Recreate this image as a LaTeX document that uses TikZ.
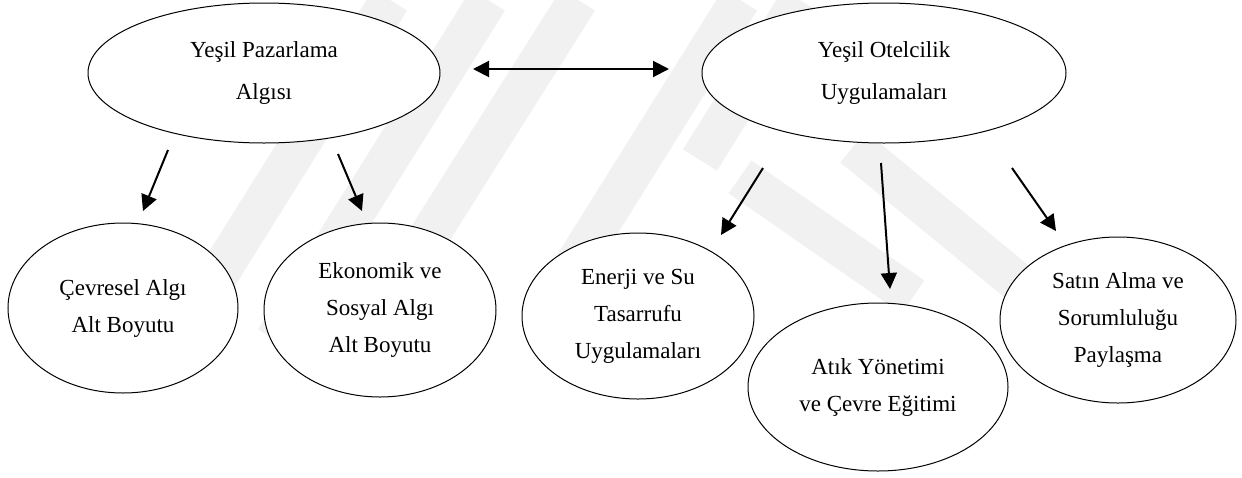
\documentclass[tikz,border=0pt]{standalone}
\usepackage{fontspec}
\setmainfont{Liberation Serif}
\usetikzlibrary{shapes.geometric,arrows.meta}
\definecolor{wmgray}{RGB}{241,241,241}
\tikzset{
  ell/.style={ellipse, draw=black, line width=0.5pt, fill=white, inner sep=0pt, align=center},
  topfont/.style={font=\fontsize{11.5}{21}\selectfont},
  botfont/.style={font=\fontsize{11.5}{18.5}\selectfont},
  arr/.style={line width=1pt, -{Triangle[length=8pt,width=8pt]}},
  dblarr/.style={line width=1pt, {Triangle[length=8pt,width=8pt]}-{Triangle[length=8pt,width=8pt]}},
  wm/.style={wmgray, line width=20pt, line cap=butt}
}
\begin{document}
\begin{tikzpicture}[x=0.5pt,y=-0.5pt]
\useasboundingbox (0,0) rectangle (1242,477);
\fill[white] (0,0) rectangle (1242,477);
% watermark stripes
\draw[wm] (390,0) -- (215,280);
\draw[wm] (488,0) -- (275,340);
\draw[wm] (578,0) -- (420,250);
\draw[wm] (740,0) -- (540,320);
\draw[wm] (800,0) -- (700,160);
\draw[wm] (740,177) -- (913,297);
\draw[wm] (853,147) -- (1027,290);
% nodes
\node[ell, topfont, minimum width=176pt, minimum height=70pt] (ypa) at (264,73) {Yeşil Pazarlama\\Algısı};
\node[ell, topfont, minimum width=182pt, minimum height=70pt] (yot) at (884,73) {Yeşil Otelcilik\\Uygulamaları};
\node[ell, botfont, minimum width=115pt, minimum height=85pt] (cev) at (123,308) {Çevresel Algı\\Alt Boyutu};
\node[ell, botfont, minimum width=116pt, minimum height=87pt] (eko) at (380,310) {Ekonomik ve\\Sosyal Algı\\Alt Boyutu};
\node[ell, botfont, minimum width=116pt, minimum height=83pt] (ene) at (638,316) {Enerji ve Su\\Tasarrufu\\Uygulamaları};
\node[ell, botfont, minimum width=130pt, minimum height=84pt] (atk) at (878,387) {Atık Yönetimi\\ve Çevre Eğitimi};
\node[ell, botfont, minimum width=118pt, minimum height=83pt] (sat) at (1118,320) {Satın Alma ve\\Sorumluluğu\\Paylaşma};
% arrow end points
\coordinate (d1) at (473,69);
\coordinate (d2) at (669,69);
\coordinate (a1s) at (168,150); \coordinate (a1e) at (143,211);
\coordinate (a2s) at (338,154); \coordinate (a2e) at (362,211);
\coordinate (a3s) at (763,168); \coordinate (a3e) at (721,235);
\coordinate (a4s) at (881,163); \coordinate (a4e) at (890,289);
\coordinate (a5s) at (1012,168); \coordinate (a5e) at (1056,231);
\draw[dblarr] (d1) -- (d2);
\draw[arr] (a1s) -- (a1e);
\draw[arr] (a2s) -- (a2e);
\draw[arr] (a3s) -- (a3e);
\draw[arr] (a4s) -- (a4e);
\draw[arr] (a5s) -- (a5e);
\end{tikzpicture}
\end{document}
